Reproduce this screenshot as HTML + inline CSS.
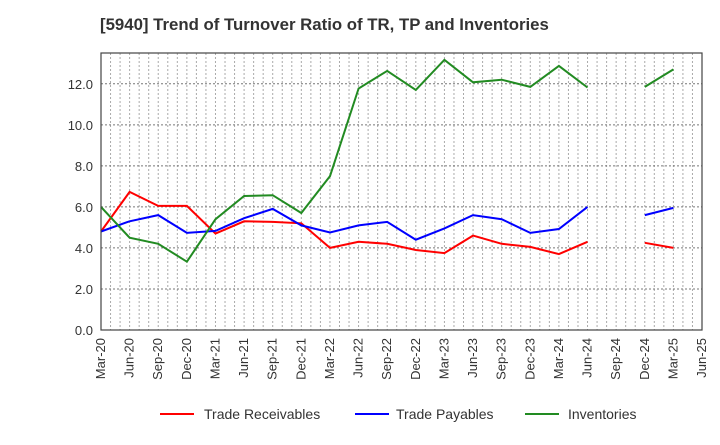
<!DOCTYPE html>
<html><head><meta charset="utf-8"><style>
body{margin:0;background:#fff;font-family:"Liberation Sans",sans-serif}
svg text{font-family:"Liberation Sans",sans-serif}
</style></head><body>
<svg id="c" width="720" height="440">
<text x="100" y="30" font-size="16.8" font-weight="bold" fill="#333">[5940]  Trend of Turnover Ratio of TR, TP and Inventories</text>
<g id="grid"></g><g id="series"></g><g id="axes"></g>
<g>
<line x1="160" y1="414" x2="194" y2="414" stroke="#f00" stroke-width="2"/>
<text x="204" y="419" font-size="14" fill="#333">Trade Receivables</text>
<line x1="355" y1="414" x2="389" y2="414" stroke="#00f" stroke-width="2"/>
<text x="396" y="419" font-size="14" fill="#333">Trade Payables</text>
<line x1="525" y1="414" x2="559" y2="414" stroke="#228b22" stroke-width="2"/>
<text x="568" y="419" font-size="14" fill="#333">Inventories</text>
</g>
</svg>
<script>
const xLabels=["Mar-20","Jun-20","Sep-20","Dec-20","Mar-21","Jun-21","Sep-21","Dec-21","Mar-22","Jun-22","Sep-22","Dec-22","Mar-23","Jun-23","Sep-23","Dec-23","Mar-24","Jun-24","Sep-24","Dec-24","Mar-25","Jun-25"];
const yTicks=[0,2,4,6,8,10,12];
const receivables=[4.8,6.73,6.05,6.05,4.7,5.3,5.27,5.2,4.0,4.3,4.2,3.9,3.75,4.6,4.2,4.05,3.7,4.3,null,4.25,4.0];
const payables=[4.8,5.3,5.6,4.73,4.83,5.45,5.9,5.1,4.75,5.1,5.27,4.4,4.95,5.6,5.4,4.73,4.92,6.0,null,5.6,5.95];
const inventories=[6.0,4.5,4.2,3.33,5.4,6.53,6.57,5.7,7.5,11.77,12.63,11.7,13.17,12.07,12.2,11.85,12.87,11.82,null,11.85,12.7];
const L=101,R=702,T=53,B=330,yMax=13.5;
const xs=i=>L+i*(R-L)/(xLabels.length-1);
const ys=v=>B-v*(B-T)/yMax;
const NS="http://www.w3.org/2000/svg";
function mk(tag,attrs,parent){const e=document.createElementNS(NS,tag);for(const k in attrs)e.setAttribute(k,attrs[k]);parent.appendChild(e);return e;}
const grid=document.getElementById('grid'),axes=document.getElementById('axes'),ser=document.getElementById('series');
for(let m=1;m<(xLabels.length-1)*3;m++){const x=L+m*(R-L)/((xLabels.length-1)*3);
const g=mk('line',{x1:x,x2:x,y1:T,y2:B,stroke:'#aaa','stroke-dasharray':'2,2','stroke-width':1},grid);

}
yTicks.forEach(v=>{const y=ys(v);
if(v>0){const g=mk('line',{x1:L,x2:R,y1:y,y2:y,stroke:'#777','stroke-dasharray':'2,2','stroke-width':1},grid);

}
const t=mk('text',{x:L-8,y:y+5,'text-anchor':'end','font-size':13,fill:'#333'},axes);t.textContent=v.toFixed(1);

});
xLabels.forEach((s,i)=>{const x=xs(i);
const t=mk('text',{x:x+4,y:B+8,'text-anchor':'end','font-size':13,fill:'#333',transform:`rotate(-90 ${x+4} ${B+8})`},axes);t.textContent=s;

});
const fr=mk('rect',{x:L,y:T,width:R-L,height:B-T,fill:'none',stroke:'#444','stroke-width':1.2},axes);


function draw(arr,color,name){let d='',pen=false;arr.forEach((v,i)=>{if(v==null){pen=false;return;}d+=(pen?'L':'M')+xs(i).toFixed(1)+' '+ys(v).toFixed(1);pen=true;});
const p=mk('path',{d:d,fill:'none',stroke:color,'stroke-width':2},ser);

}
draw(receivables,'#f00','line-trade-receivables');
draw(payables,'#00f','line-trade-payables');
draw(inventories,'#228b22','line-inventories');
</script>
</body></html>
